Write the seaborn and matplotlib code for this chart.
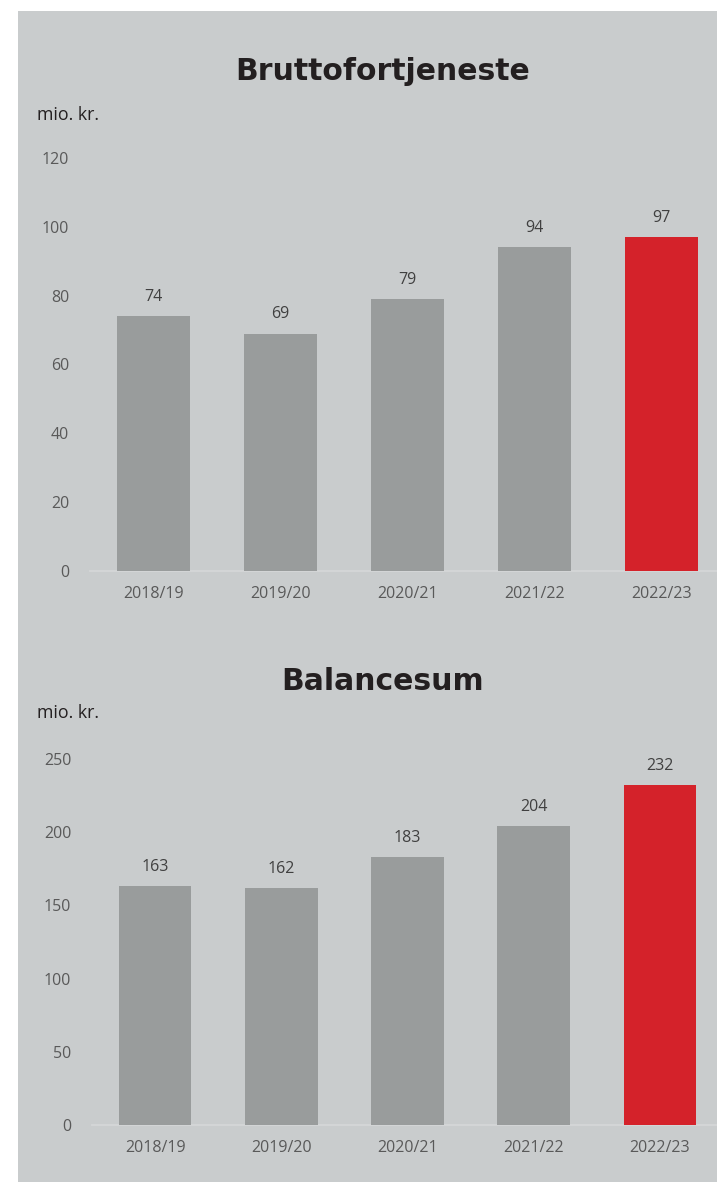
import matplotlib
matplotlib.use('Agg')
import matplotlib.pyplot as plt
import seaborn as sns
from matplotlib.patches import Rectangle

# Data
years = ['2018/19', '2019/20', '2020/21', '2021/22', '2022/23']
brutto = [74, 69, 79, 94, 97]
balance = [163, 162, 183, 204, 232]
brutto_ticks = [0, 20, 40, 60, 80, 100, 120]
balance_ticks = [0, 50, 100, 150, 200, 250]

BG = '#c9cccd'
GREY = '#999c9c'
RED = '#d4222a'
DARK = '#231f20'
TICK = '#595959'
colors = [GREY, GREY, GREY, GREY, RED]

sns.set_theme(style='white')
plt.rcParams['font.family'] = ['Open Sans', 'DejaVu Sans']

W, H = 717, 1182
fig = plt.figure(figsize=(W / 100, H / 100), dpi=100)
fig.patch.set_facecolor('white')
fig.patches.append(Rectangle((18 / W, 0), 1 - 18 / W, 1 - 11 / H,
                             transform=fig.transFigure, facecolor=BG,
                             edgecolor='none', zorder=-10))


def px_axes(left, right, top, bottom):
    return fig.add_axes([left / W, 1 - bottom / H, (right - left) / W, (bottom - top) / H])


def draw(ax, values, ticks, step):
    sns.barplot(x=years, y=values, hue=years, palette=colors, legend=False,
                width=0.575, saturation=1, linewidth=0, ax=ax, zorder=3)
    ax.set_facecolor('none')
    ax.set_ylim(ticks[0], ticks[-1])
    ax.set_yticks(ticks)
    ax.set_xlim(-0.5, -0.5 + step)
    for s in ['top', 'right', 'left']:
        ax.spines[s].set_visible(False)
    ax.spines['bottom'].set_color('#d6d8d9')
    ax.spines['bottom'].set_linewidth(1.2)
    ax.set_xlabel('')
    ax.set_ylabel('')
    ax.tick_params(axis='y', length=0, pad=15, labelsize=11.5, labelcolor=TICK)
    ax.tick_params(axis='x', length=0, pad=11, labelsize=11.5, labelcolor=TICK)
    for c in ax.containers:
        ax.bar_label(c, padding=8, fontsize=11.5, color='#404040')


ax1 = px_axes(90, 717, 158, 571)
draw(ax1, brutto, brutto_ticks, 627 / 127)

ax2 = px_axes(92, 717, 759, 1125)
draw(ax2, balance, balance_ticks, 625 / 126.2)

fig.text(383 / W, 1 - 72 / H, 'Bruttofortjeneste', ha='center', va='center',
         fontsize=21.5, fontweight='bold', color=DARK, family='DejaVu Sans')
fig.text(383 / W, 1 - 682 / H, 'Balancesum', ha='center', va='center',
         fontsize=21.5, fontweight='bold', color=DARK, family='DejaVu Sans')
fig.text(37 / W, 1 - 115 / H, 'mio. kr.', ha='left', va='center',
         fontsize=12.8, color=DARK)
fig.text(37 / W, 1 - 713 / H, 'mio. kr.', ha='left', va='center',
         fontsize=12.8, color=DARK)

fig.savefig('out.png', dpi=100)
